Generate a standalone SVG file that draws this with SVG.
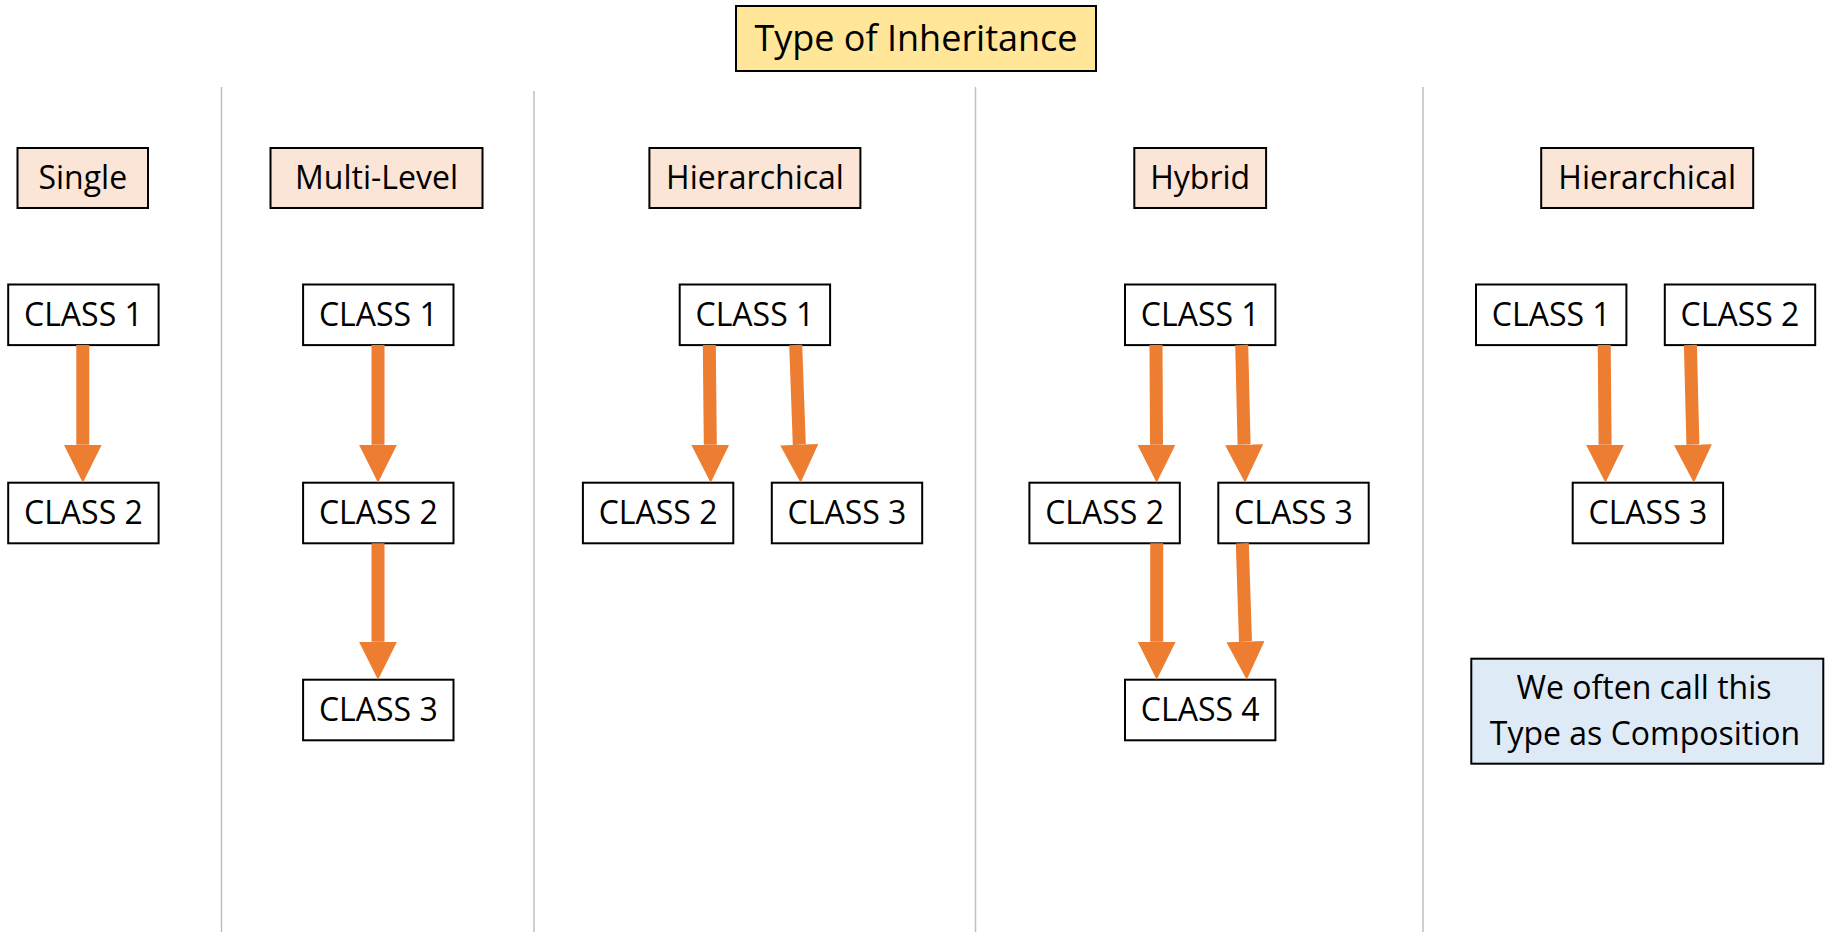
<svg xmlns="http://www.w3.org/2000/svg" width="1828" height="932" viewBox="0 0 1828 932">
<style>
  .bg{fill:#ffffff}
  .div{stroke:#BFBFBF;stroke-width:1.5;fill:none}
  .box{fill:#ffffff;stroke:#000;stroke-width:2}
  .hdr{fill:#FBE5D6;stroke:#000;stroke-width:2}
  .title{fill:#FFE699;stroke:#000;stroke-width:2}
  .note{fill:#DEEBF7;stroke:#000;stroke-width:2}
  text{font-family:"Open Sans","Noto Sans",sans-serif;font-size:32px;fill:#000;text-anchor:middle}
  .tt{font-size:36px}
  .arr{stroke:#ED7D31;stroke-width:13;fill:none;marker-end:url(#ah)}
</style>
<defs>
  <marker id="ah" markerUnits="userSpaceOnUse" viewBox="0 0 38 38" refX="0" refY="19" markerWidth="38" markerHeight="38" orient="auto">
    <path d="M0,0 L38,19 L0,38 z" fill="#ED7D31"/>
  </marker>
</defs>
<rect class="bg" x="0" y="0" width="1828" height="932"/>
<g id="dividers">
  <line class="div" x1="221.5" y1="87" x2="221.5" y2="932"/>
  <line class="div" x1="534" y1="91" x2="534" y2="932"/>
  <line class="div" x1="975.5" y1="87" x2="975.5" y2="932"/>
  <line class="div" x1="1423" y1="87" x2="1423" y2="932"/>
</g>
<g id="title"><rect class="title" x="736" y="6" width="360" height="65"/><text class="tt" x="916" y="51">Type of Inheritance</text></g>
<g id="hdr-single"><rect class="hdr" x="17.5" y="148" width="130.5" height="60"/><text x="82.8" y="189">Single</text></g>
<g id="hdr-multi"><rect class="hdr" x="270.5" y="148" width="212" height="60"/><text x="376.5" y="189">Multi-Level</text></g>
<g id="hdr-hier"><rect class="hdr" x="649.4" y="148" width="211" height="60"/><text x="755" y="189">Hierarchical</text></g>
<g id="hdr-hybrid"><rect class="hdr" x="1134.3" y="148" width="131.8" height="60"/><text x="1200.2" y="189">Hybrid</text></g>
<g id="hdr-hier2"><rect class="hdr" x="1541.2" y="148" width="212" height="60"/><text x="1647.2" y="189">Hierarchical</text></g>

<g id="s-c1"><rect class="box" x="8.2" y="284.5" width="150.4" height="60.6"/><text x="83.4" y="326">CLASS 1</text></g>
<g id="s-c2"><rect class="box" x="8.2" y="482.7" width="150.4" height="60.6"/><text x="83.4" y="524.4">CLASS 2</text></g>

<g id="m-c1"><rect class="box" x="303.1" y="284.5" width="150.4" height="60.6"/><text x="378.3" y="326">CLASS 1</text></g>
<g id="m-c2"><rect class="box" x="303.1" y="482.7" width="150.4" height="60.6"/><text x="378.3" y="524.4">CLASS 2</text></g>
<g id="m-c3"><rect class="box" x="303.1" y="679.7" width="150.4" height="60.6"/><text x="378.3" y="721.4">CLASS 3</text></g>

<g id="h-c1"><rect class="box" x="679.7" y="284.5" width="150.4" height="60.6"/><text x="754.9" y="326">CLASS 1</text></g>
<g id="h-c2"><rect class="box" x="582.9" y="482.7" width="150.4" height="60.6"/><text x="658.1" y="524.4">CLASS 2</text></g>
<g id="h-c3"><rect class="box" x="771.8" y="482.7" width="150.4" height="60.6"/><text x="847" y="524.4">CLASS 3</text></g>

<g id="y-c1"><rect class="box" x="1125" y="284.5" width="150.4" height="60.6"/><text x="1200.2" y="326">CLASS 1</text></g>
<g id="y-c2"><rect class="box" x="1029.4" y="482.7" width="150.4" height="60.6"/><text x="1104.6" y="524.4">CLASS 2</text></g>
<g id="y-c3"><rect class="box" x="1218.3" y="482.7" width="150.4" height="60.6"/><text x="1293.5" y="524.4">CLASS 3</text></g>
<g id="y-c4"><rect class="box" x="1125" y="679.7" width="150.4" height="60.6"/><text x="1200.2" y="721.4">CLASS 4</text></g>

<g id="c-c1"><rect class="box" x="1476" y="284.5" width="150.4" height="60.6"/><text x="1551.2" y="326">CLASS 1</text></g>
<g id="c-c2"><rect class="box" x="1664.8" y="284.5" width="150.4" height="60.6"/><text x="1740" y="326">CLASS 2</text></g>
<g id="c-c3"><rect class="box" x="1572.7" y="482.7" width="150.4" height="60.6"/><text x="1647.9" y="524.4">CLASS 3</text></g>

<g id="note"><rect class="note" x="1471.3" y="658.7" width="352" height="105"/><text x="1644" y="699">We often call this</text><text x="1645" y="744.7">Type as Composition</text></g>

<g id="connectors">
  <line class="arr" x1="82.8" y1="345" x2="82.8" y2="444.7"/>
  <line class="arr" x1="378" y1="345" x2="378" y2="444.7"/>
  <line class="arr" x1="378" y1="543.3" x2="378" y2="641.7"/>
  <line class="arr" x1="709.3" y1="345" x2="710.3" y2="444.7"/>
  <line class="arr" x1="795.7" y1="345" x2="799.3" y2="444.7"/>
  <line class="arr" x1="1156" y1="345" x2="1156.5" y2="444.7"/>
  <line class="arr" x1="1241.7" y1="345" x2="1244.1" y2="444.7"/>
  <line class="arr" x1="1156.7" y1="543.3" x2="1156.7" y2="641.7"/>
  <line class="arr" x1="1242.3" y1="543.3" x2="1245.5" y2="641.7"/>
  <line class="arr" x1="1604.2" y1="345" x2="1605.1" y2="444.7"/>
  <line class="arr" x1="1690.4" y1="345" x2="1692.9" y2="444.7"/>
</g>
</svg>
